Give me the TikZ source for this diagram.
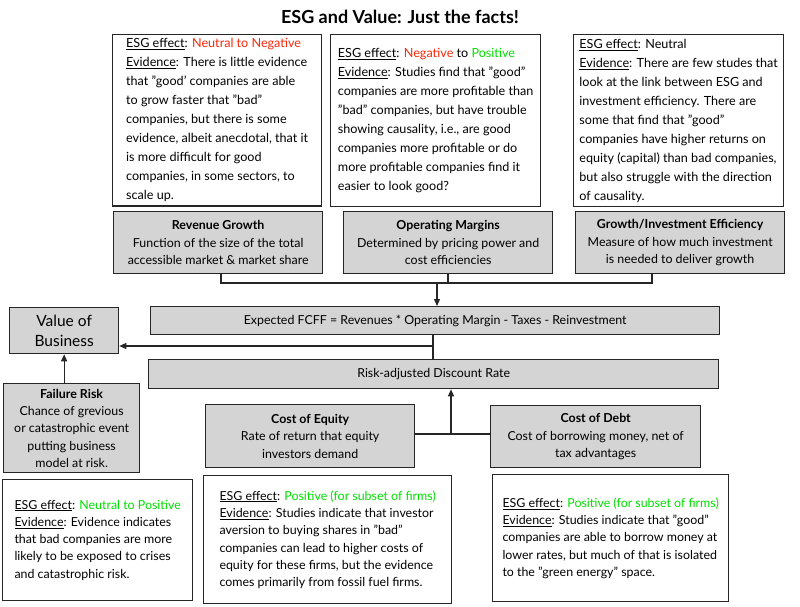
\documentclass[tikz,border=0pt]{standalone}
\usepackage{fontspec}
\setmainfont{Lato}
\usetikzlibrary{arrows.meta}
\definecolor{gr}{RGB}{0,225,0}
\definecolor{rd}{RGB}{250,40,10}
\begin{document}
\begin{tikzpicture}[x=1pt,y=-1pt,
 txt/.style={draw=black!85,line width=1.3pt,fill=white,anchor=north west,inner sep=4pt,align=left,font=\fontsize{12.6}{19}\selectfont},
 gbox/.style={draw=black!85,line width=1.3pt,fill=black!17,anchor=north west,align=center,inner sep=2pt,font=\fontsize{12.4}{17.5}\selectfont},
 ln/.style={line width=1.2pt,draw=black!85},
 ar/.style={ln,-{Triangle[length=7pt,width=6pt]}}]
\useasboundingbox (0,0) rectangle (800,606);
\node[font=\bfseries\fontsize{18}{20}\selectfont] (title) at (400,17) {ESG and Value: Just the facts!};
% top text boxes
\node[txt,minimum width=209,minimum height=168,anchor=north west] (t1) at (112,34) {\underline{ESG effect}: \textcolor{rd}{Neutral to Negative}\\\underline{Evidence}: There is little evidence\\that "good' companies are able\\to grow faster that "bad"\\companies, but there is some\\evidence, albeit anecdotal, that it\\is more difficult for good\\companies, in some sectors, to\\scale up.};
\node[txt,minimum width=210,minimum height=172] (t2) at (330,34) {\underline{ESG effect}: \textcolor{rd}{Negative} to \textcolor{gr}{Positive}\\\underline{Evidence}: Studies find that "good"\\companies are more profitable than\\"bad" companies, but have trouble\\showing causality, i.e., are good\\companies more profitable or do\\more profitable companies find it\\easier to look good?};
\node[txt,minimum width=210,minimum height=172] (t3) at (573,34) {\underline{ESG effect}: Neutral\\\underline{Evidence}: There are few studes that\\look at the link between ESG and\\investment efficiency. There are\\some that find that "good"\\companies have higher returns on\\equity (capital) than bad companies,\\but also struggle with the direction\\of causality.};
% grey boxes
\node[gbox,minimum width=209,minimum height=62] (rg) at (113,211) {\textbf{Revenue Growth}\\Function of the size of the total\\accessible market \& market share};
\node[gbox,minimum width=209,minimum height=62] (om) at (343,211) {\textbf{Operating Margins}\\Determined by pricing power and\\cost efficiencies};
\node[gbox,minimum width=209,minimum height=62] (gi) at (575,211) {\textbf{Growth/Investment Efficiency}\\Measure of how much investment\\is needed to deliver growth};
\node[gbox,minimum width=569,minimum height=28] (fcff) at (150,306) {Expected FCFF = Revenues * Operating Margin - Taxes - Reinvestment};
\node[gbox,minimum width=109,minimum height=46,font=\fontsize{15.5}{20}\selectfont] (vb) at (9,307) {Value of\\Business};
\node[gbox,minimum width=570,minimum height=29] (rd) at (148,359) {Risk-adjusted Discount Rate};
\node[gbox,minimum width=136,minimum height=89,font=\fontsize{12.4}{17.3}\selectfont] (fr) at (3,383) {\textbf{Failure Risk}\\Chance of grevious\\or catastrophic event\\putting business\\model at risk.};
\node[gbox,minimum width=209,minimum height=63] (ce) at (205,404) {\textbf{Cost of Equity}\\Rate of return that equity\\investors demand};
\node[gbox,minimum width=210,minimum height=62] (cd) at (490,405) {\textbf{Cost of Debt}\\Cost of borrowing money, net of\\tax advantages};
% bottom text boxes
\node[txt,minimum width=190,minimum height=121,font=\fontsize{12.4}{17.3}\selectfont] (b1) at (2,479) {\underline{ESG effect}: \textcolor{gr}{Neutral to Positive}\\\underline{Evidence}: Evidence indicates\\that bad companies are more\\likely to be exposed to crises\\and catastrophic risk.};
\node[txt,minimum width=248,minimum height=128,font=\fontsize{12.4}{17.3}\selectfont] (b2) at (203,475) {\underline{ESG effect}: \textcolor{gr}{Positive (for subset of firms)}\\\underline{Evidence}: Studies indicate that investor\\aversion to buying shares in "bad"\\companies can lead to higher costs of\\equity for these firms, but the evidence\\comes primarily from fossil fuel firms.};
\node[txt,minimum width=236,minimum height=127,font=\fontsize{12.4}{17.3}\selectfont] (b3) at (492,474) {\underline{ESG effect}: \textcolor{gr}{Positive (for subset of firms)}\\\underline{Evidence}: Studies indicate that "good"\\companies are able to borrow money at\\lower rates, but much of that is isolated\\to the "green energy" space.};
% connectors
\coordinate (bl) at (221,283); \coordinate (br) at (652,283);
\draw[ln] (rg.south -| bl) -- (bl) -- (br) -- (gi.south -| br);
\draw[ln] (om.south -| 448,0) -- (448,283);
\draw[ar] (437,283) -- (fcff.north -| 437,0);
\draw[ln] (fcff.south -| 433,0) -- (rd.north -| 433,0);
\draw[ar] (433,346) -- (vb.east |- 0,346);
\draw[ar] (fr.north -| vb.south) -- (vb.south);
\coordinate (m) at (451,434);
\draw[ln] (ce.east |- m) -- (cd.west |- m);
\draw[ar] (m) -- (rd.south -| m);
\end{tikzpicture}
\end{document}
